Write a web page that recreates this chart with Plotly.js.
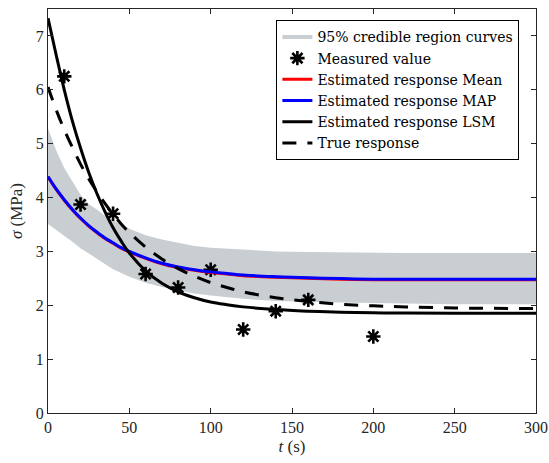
<!DOCTYPE html>
<html>
<head>
<meta charset="utf-8">
<script src="https://cdn.plot.ly/plotly-3.0.1.min.js"></script>
<style>html,body{margin:0;padding:0;background:#fff;}#chart{width:549px;height:463px;}</style>
</head>
<body>
<div id="chart"></div>
<script>
// Time grid for curves (s)
const tCurve = [0,5,10,15,20,25,30,35,40,45,50,60,70,80,90,100,110,120,140,160,180,200,220,250,300];

// 95% credible region envelope (MPa)
const bandUpper = [5.28,4.88,4.55,4.30,4.05,3.88,3.78,3.66,3.58,3.50,3.42,3.30,3.22,3.16,3.10,3.07,3.05,3.03,3.00,2.99,2.98,2.98,2.97,2.97,2.97];
const bandLower = [3.51,3.40,3.30,3.18,3.06,2.96,2.86,2.76,2.67,2.60,2.53,2.42,2.34,2.28,2.22,2.18,2.15,2.12,2.08,2.06,2.05,2.04,2.03,2.02,2.02];

// Estimated responses (MPa)
const meanResp = [4.38,4.15,3.95,3.77,3.61,3.47,3.35,3.24,3.15,3.06,2.99,2.87,2.77,2.70,2.65,2.61,2.58,2.55,2.52,2.50,2.485,2.475,2.475,2.475,2.475];
const mapResp  = [4.39,4.16,3.96,3.78,3.62,3.48,3.36,3.25,3.16,3.07,3.00,2.88,2.78,2.71,2.66,2.62,2.59,2.56,2.53,2.51,2.495,2.485,2.485,2.485,2.485];
const lsmResp  = [7.33,6.65,6.00,5.42,4.92,4.47,4.08,3.74,3.44,3.19,2.97,2.64,2.41,2.25,2.14,2.06,2.01,1.97,1.92,1.89,1.87,1.86,1.855,1.85,1.85];
const trueResp = [6.05,5.63,5.26,4.93,4.62,4.35,4.11,3.89,3.69,3.51,3.35,3.08,2.86,2.68,2.54,2.42,2.33,2.25,2.14,2.07,2.02,1.99,1.97,1.95,1.94];

// Measured values
const tMeas = [10,20,40,60,80,100,120,140,160,200];
const sMeas = [6.25,3.87,3.70,2.58,2.33,2.66,1.55,1.89,2.10,1.42];

// Axis ticks
const xTicks = [0,50,100,150,200,250,300];
const yTicks = [0,1,2,3,4,5,6,7];

const bandColor = 'rgb(200,206,209)';
const serif = '"Liberation Serif", "DejaVu Serif", serif';
const legendSerif = '"DejaVu Serif", "Liberation Serif", serif';

const traces = [
  {x: tCurve, y: bandLower, mode: 'lines', line: {width: 0, color: bandColor}, showlegend: false, hoverinfo: 'skip'},
  {x: tCurve, y: bandUpper, mode: 'lines', fill: 'tonexty', fillcolor: bandColor, line: {width: 0, color: bandColor}, showlegend: false, hoverinfo: 'skip'},
  {x: [null], y: [null], mode: 'lines', name: '95% credible region curves', line: {color: bandColor, width: 4}},
  {x: tMeas, y: sMeas, mode: 'markers', name: 'Measured value', marker: {symbol: 'asterisk-open', size: 12, color: 'black', line: {color: 'black', width: 2.6}}},
  {x: tCurve, y: meanResp, mode: 'lines', name: 'Estimated response Mean', line: {color: 'rgb(255,0,0)', width: 3, shape: 'spline'}},
  {x: tCurve, y: mapResp, mode: 'lines', name: 'Estimated response MAP', line: {color: 'rgb(0,0,255)', width: 3, shape: 'spline'}},
  {x: tCurve, y: lsmResp, mode: 'lines', name: 'Estimated response LSM', line: {color: 'black', width: 3, shape: 'spline'}},
  {x: tCurve, y: trueResp, mode: 'lines', name: 'True response', line: {color: 'black', width: 3, dash: '14px,11px', shape: 'spline'}}
];

const axisCommon = {
  showline: true, linecolor: '#262626', linewidth: 1, mirror: 'ticks',
  ticks: 'inside', ticklen: 5, tickwidth: 1, tickcolor: '#262626',
  showgrid: false, zeroline: false,
  tickfont: {family: serif, size: 16, color: '#262626'}
};

const layout = {
  width: 549, height: 463,
  margin: {l: 48, r: 13, t: 9, b: 50},
  paper_bgcolor: 'white', plot_bgcolor: 'white',
  showlegend: true,
  xaxis: Object.assign({}, axisCommon, {
    range: [0, 300], tickvals: xTicks, ticktext: xTicks.map(String),
    title: {text: '<i>t</i> (s)', font: {family: serif, size: 17, color: '#262626'}, standoff: 4}
  }),
  yaxis: Object.assign({}, axisCommon, {
    range: [0, 7.5], tickvals: yTicks, ticktext: yTicks.map(String),
    title: {text: '<i>σ</i> (MPa)', font: {family: serif, size: 17, color: '#262626'}, standoff: 8}
  }),
  legend: {
    x: 0.468, y: 0.972, xanchor: 'left', yanchor: 'top',
    traceorder: 'normal',
    bgcolor: 'white', bordercolor: 'black', borderwidth: 1,
    font: {family: legendSerif, size: 14, color: 'black'},
    tracegroupgap: 0, itemwidth: 30
  }
};

Plotly.newPlot('chart', traces, layout, {displayModeBar: false, staticPlot: true});
</script>
</body>
</html>
